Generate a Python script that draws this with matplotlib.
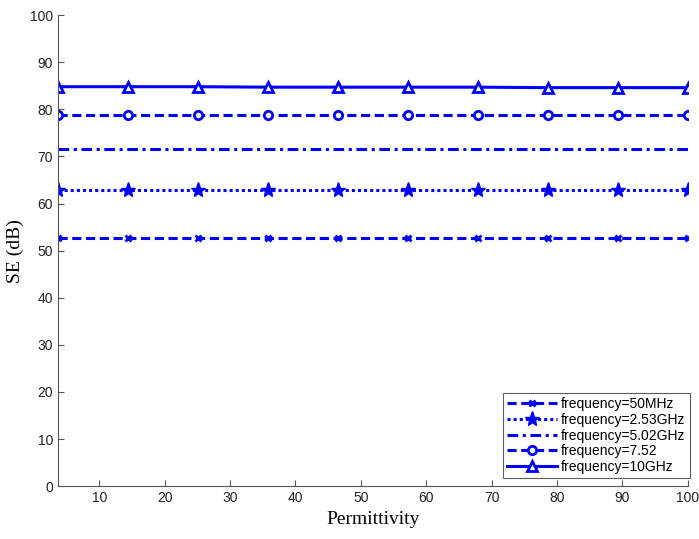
import numpy as np
import matplotlib.pyplot as plt

# === data ===
permittivity = [3.7, 14.4, 25.1, 35.8, 46.5, 57.2, 67.9, 78.6, 89.3, 100]
se_50mhz = [52.6, 52.6, 52.6, 52.6, 52.6, 52.6, 52.6, 52.6, 52.6, 52.6]
se_253ghz = [62.8, 62.8, 62.8, 62.8, 62.8, 62.8, 62.8, 62.8, 62.8, 62.8]
se_502ghz = [71.5, 71.5, 71.5, 71.5, 71.5, 71.5, 71.5, 71.5, 71.5, 71.5]
se_752ghz = [78.7, 78.7, 78.7, 78.7, 78.7, 78.7, 78.7, 78.7, 78.7, 78.7]
se_10ghz = [84.8, 84.8, 84.8, 84.7, 84.7, 84.7, 84.7, 84.6, 84.6, 84.6]
labels = ["frequency=50MHz", "frequency=2.53GHz", "frequency=5.02GHz",
          "frequency=7.52", "frequency=10GHz"]
xticks = [10, 20, 30, 40, 50, 60, 70, 80, 90, 100]
yticks = [0, 10, 20, 30, 40, 50, 60, 70, 80, 90, 100]

blue = "#0000ff"

fig = plt.figure(figsize=(6.99, 5.39), dpi=100)
ax = fig.add_axes([0.083, 0.098, 0.901, 0.874])

lw = 2.2
ax.plot(permittivity, se_50mhz, color=blue, lw=lw, ls=(0, (3, 1.5)),
        marker="x", ms=5, mew=2, label=labels[0])
ax.plot(permittivity, se_253ghz, color=blue, lw=lw, ls=(0, (1, 1)),
        marker="*", ms=11, label=labels[1])
ax.plot(permittivity, se_502ghz, color=blue, lw=lw, ls=(0, (3.5, 1.5, 1, 1.5)),
        label=labels[2])
ax.plot(permittivity, se_752ghz, color=blue, lw=lw, ls=(0, (3, 1.5)),
        marker="o", ms=6, mew=2, mfc="white", label=labels[3])
ax.plot(permittivity, se_10ghz, color=blue, lw=lw, ls="-",
        marker="^", ms=7, mfc="white", mew=2, label=labels[4])

ax.set_xlim(3.7, 100)
ax.set_ylim(0, 100)
ax.set_xticks(xticks)
ax.set_yticks(yticks)

for side in ["top", "right"]:
    ax.spines[side].set_visible(False)
for side in ["left", "bottom"]:
    ax.spines[side].set_color("#555555")
ax.tick_params(direction="in", length=4, color="#555555",
               labelsize=10, labelcolor="#222222")
for t in ax.get_xticklabels() + ax.get_yticklabels():
    t.set_family("Liberation Sans")

ax.set_xlabel("Permittivity", family="Liberation Serif", fontsize=14)
ax.set_ylabel("SE (dB)", family="Liberation Serif", fontsize=14)

leg = ax.legend(loc="lower right", bbox_to_anchor=(1.003, 0.017),
                prop={"family": "Liberation Sans", "size": 10},
                frameon=True, fancybox=False, edgecolor="#333333",
                borderpad=0.3, labelspacing=0.12, handlelength=3.6,
                handletextpad=0.3, borderaxespad=0.0)
leg.get_frame().set_linewidth(0.8)

plt.savefig("out.png", dpi=100)
plt.close()
